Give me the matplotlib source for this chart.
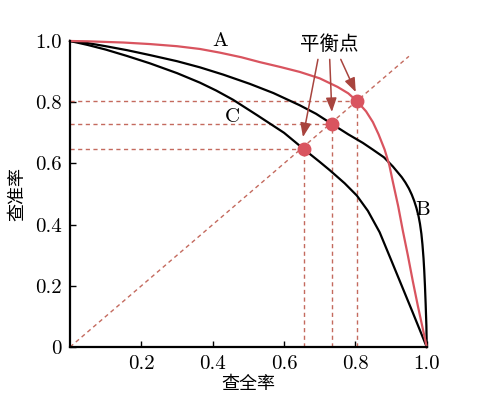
import matplotlib.pyplot as plt

# 数据
ax_x = [0, 0.05, 0.1, 0.15, 0.224, 0.3, 0.364, 0.42, 0.48, 0.532, 0.59, 0.644, 0.7, 0.75, 0.78,
        0.804, 0.83, 0.849, 0.865, 0.882, 0.895, 0.905, 0.92, 0.933, 0.947, 0.961, 0.975, 0.988, 1.0]
ax_y = [1.0, 0.999, 0.997, 0.995, 0.99, 0.983, 0.974, 0.962, 0.947, 0.931, 0.915, 0.899, 0.878, 0.85, 0.829,
        0.804, 0.77, 0.735, 0.695, 0.645, 0.595, 0.54, 0.46, 0.38, 0.3, 0.215, 0.135, 0.065, 0.0]

bx_x = [0, 0.05, 0.1, 0.16, 0.224, 0.3, 0.364, 0.43, 0.504, 0.57, 0.644, 0.69, 0.734, 0.78, 0.821,
        0.849, 0.88, 0.905, 0.93, 0.94, 0.95, 0.958, 0.965, 0.971, 0.977, 0.981, 0.985, 0.988,
        0.991, 0.993, 0.995, 0.997, 0.999, 1.0]
bx_y = [1.0, 0.993, 0.983, 0.97, 0.954, 0.934, 0.914, 0.89, 0.86, 0.83, 0.79, 0.762, 0.729, 0.695, 0.667,
        0.645, 0.62, 0.59, 0.555, 0.538, 0.518, 0.498, 0.477, 0.455, 0.428, 0.403, 0.37, 0.335,
        0.29, 0.25, 0.2, 0.14, 0.07, 0.0]

cx_x = [0, 0.05, 0.1, 0.16, 0.224, 0.3, 0.364, 0.41, 0.457, 0.524, 0.6, 0.655, 0.7, 0.728, 0.77,
        0.804, 0.835, 0.868, 0.9, 0.93, 0.96, 1.0]
cx_y = [1.0, 0.987, 0.972, 0.951, 0.927, 0.895, 0.864, 0.838, 0.808, 0.758, 0.70, 0.647, 0.605, 0.578, 0.535,
        0.495, 0.445, 0.375, 0.285, 0.2, 0.115, 0.0]

# 平衡点 (A, B, C)
bep_x = [0.804, 0.734, 0.655]
bep_y = [0.804, 0.729, 0.647]

xticks = [0.2, 0.4, 0.6, 0.8, 1.0]
xtick_labels = ['0.2', '0.4', '0.6', '0.8', '1.0']
yticks = [0, 0.2, 0.4, 0.6, 0.8, 1.0]
ytick_labels = ['0', '0.2', '0.4', '0.6', '0.8', '1.0']

red = '#d9545f'
dash_col = '#c46a5e'
arrow_col = '#a8443e'
cjk = ['Noto Sans CJK SC', 'DejaVu Sans']

fig = plt.figure(figsize=(4.98, 4.04), dpi=100)
ax = fig.add_axes([0.1406, 0.141, 0.7163, 0.7575])

# 虚线: 对角线和平衡点的引导线
ax.plot([0, 0.95], [0, 0.95], color=dash_col, lw=1, ls=(0, (3, 2.5)))
for px, py in zip(bep_x, bep_y):
    ax.plot([0, px], [py, py], color=dash_col, lw=1, ls=(0, (3, 2.5)))
    ax.plot([px, px], [0, py], color=dash_col, lw=1, ls=(0, (3, 2.5)))

# P-R 曲线
ax.plot(cx_x, cx_y, color='black', lw=1.6, clip_on=False, solid_joinstyle='round')
ax.plot(bx_x, bx_y, color='black', lw=1.6, clip_on=False, solid_joinstyle='round')
ax.plot(ax_x, ax_y, color=red, lw=1.6, clip_on=False, solid_joinstyle='round')

ax.plot(bep_x, bep_y, 'o', color=red, markersize=9, zorder=5)

# 曲线标签
ax.text(0.42, 1.0, 'A', fontfamily='cmr10', fontsize=15, ha='center', va='center')
ax.text(0.989, 0.448, 'B', fontfamily='cmr10', fontsize=15, ha='center', va='center')
ax.text(0.454, 0.752, 'C', fontfamily='cmr10', fontsize=15, ha='center', va='center')

# 平衡点注释
ax.text(0.728, 0.99, '平衡点', family=cjk, fontsize=14, ha='center', va='center')
starts = [(0.695, 0.94), (0.728, 0.94), (0.759, 0.94)]
ends = [(0.653, 0.686), (0.734, 0.768), (0.801, 0.833)]
for s, e in zip(starts, ends):
    ax.annotate('', xy=e, xytext=s,
                arrowprops=dict(arrowstyle='-|>,head_width=0.25,head_length=0.65',
                                color=arrow_col, lw=1.1,
                                mutation_scale=13, shrinkA=0, shrinkB=0))

ax.set_xlim(0, 1)
ax.set_ylim(0, 1)
ax.spines['top'].set_visible(False)
ax.spines['right'].set_visible(False)
ax.spines['left'].set_linewidth(1.6)
ax.spines['bottom'].set_linewidth(1.6)

ax.set_xticks(xticks)
ax.set_xticklabels(xtick_labels, fontfamily='cmr10', fontsize=15)
ax.set_yticks(yticks)
ax.set_yticklabels(ytick_labels, fontfamily='cmr10', fontsize=15)
ax.tick_params(direction='in', length=4, width=1, pad=6)

ax.set_xlabel('查全率', family=cjk, fontsize=13, labelpad=1)
ax.set_ylabel('查准率', family=cjk, fontsize=13, labelpad=6)

fig.savefig('out.png', dpi=100)
